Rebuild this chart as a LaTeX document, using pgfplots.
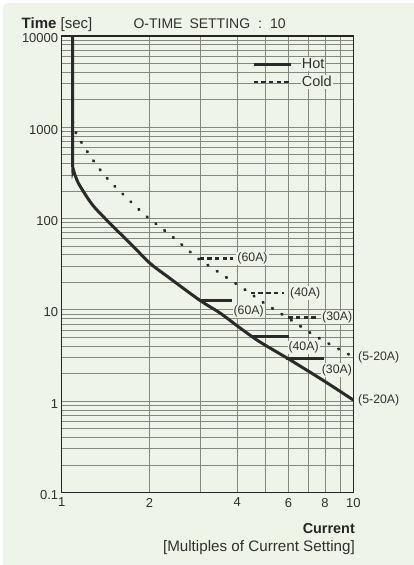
\documentclass[border=0pt]{standalone}
\usepackage{pgfplots}
\pgfplotsset{compat=1.18}
\usepackage{fontspec}
\setmainfont{Liberation Sans}
\definecolor{bg}{RGB}{239,244,232}
\definecolor{txt}{RGB}{48,48,48}
\definecolor{crv}{RGB}{42,42,42}
\definecolor{grd}{RGB}{132,136,128}
\begin{document}
\begin{tikzpicture}[x=1pt,y=1pt]
\useasboundingbox (0,0) rectangle (414,565);
\clip (0,0) rectangle (414,565);
\fill[white] (0,0) rectangle (414,565);
\fill[bg, rounded corners=6pt] (3,-12) rectangle (426,562);
\node[anchor=base west, inner sep=0pt, text=black!85] at (21.5,536.7)
  {\fontsize{15}{18}\selectfont\textbf{Time} \textcolor{txt}{[sec]}};
\node[anchor=base west, inner sep=0pt, text=txt] at (133.3,536.7)
  {\fontsize{14}{17}\selectfont O-TIME\hspace{7pt}SETTING\hspace{8pt}:\hspace{8pt}10};
\node[anchor=base east, inner sep=0pt, text=black!85] at (355,31.7)
  {\fontsize{14.4}{17}\selectfont\textbf{Current}};
\node[anchor=base east, inner sep=0pt, text=txt] at (355,13.3)
  {\fontsize{15.2}{18}\selectfont[Multiples of Current Setting]};
\begin{axis}[
  at={(61.7pt,72.5pt)}, anchor=south west,
  scale only axis, width=291.6pt, height=456.5pt,
  xmode=log, ymode=log,
  xmin=1, xmax=10, ymin=0.1, ymax=10000,
  xtick={1,2,3,4,5,6,7,8,9,10},
  xticklabels={1,2,,4,,6,,8,,10},
  minor xtick={},
  ytick={0.1,1,10,100,1000,10000},
  yticklabels={0.1,1,10,100,1000,10000},
  minor ytick={0.2,0.3,0.4,0.5,0.6,0.7,0.8,0.9,2,3,4,5,6,7,8,9,20,30,40,50,60,70,80,90,200,300,400,500,600,700,800,900,2000,3000,4000,5000,6000,7000,8000,9000},
  grid=both,
  major grid style={draw=grd, line width=0.9pt},
  minor grid style={draw=grd, line width=0.9pt},
  major tick length=0pt, minor tick length=0pt,
  axis line style={line width=1.3pt, draw=black!85},
  tick label style={font=\fontsize{13}{15}\selectfont, text=txt},
  yticklabel style={yshift=-2.5pt},
  xticklabel style={yshift=-2pt},
  axis background/.style={fill=bg},
  clip=false,
  legend style={at={(rel axis cs:0.642,0.958)}, anchor=north west, draw=none, fill=none,
    font=\fontsize{14.5}{16}\selectfont, text=txt, nodes={fill=bg, inner sep=1pt},
    row sep=4pt, column sep=9pt},
  legend cell align=left,
  legend image code/.code={\draw[#1] (0pt,0pt) -- (37pt,0pt);},
]
\addlegendimage{color=crv, line width=2.8pt}
\addlegendentry{Hot}
\addlegendimage{color=crv, line width=2.5pt, dash pattern=on 4.5pt off 3.2pt}
\addlegendentry{Cold}

% Hot curve
\addplot[color=crv, line width=3pt, smooth, tension=0.5, forget plot] coordinates {
(1.091,10000) (1.091,2000) (1.091,400) (1.095,350) (1.12,280) (1.155,228)
(1.283,138) (1.503,81.5) (1.75,50.5) (2.008,32.4) (2.34,22.4) (2.97,12.8)
(3.5,9.2) (4.02,6.6) (4.76,4.5) (6,2.9) (8,1.64) (10,1.03)};
% Cold curve
\addplot[color=crv, line width=2.9pt, line cap=round, dash pattern=on 0.8pt off 10.3pt, smooth, tension=0.5, forget plot] coordinates {
(1.091,1152) (1.108,934) (1.159,713) (1.28,438) (1.42,284) (1.61,189)
(1.835,127) (1.96,105) (2.41,62.4) (2.93,36.7) (3.17,31.0) (3.71,22.2)
(4.27,16.5) (4.96,11.8) (6.12,7.75) (7.16,5.54) (8.39,4.13) (10,3.07)};
% Hot steps
\addplot[color=crv, line width=2.7pt, forget plot] coordinates {(2.97,12.6) (3.84,12.6)};
\addplot[color=crv, line width=2.7pt, forget plot] coordinates {(4.45,5.09) (6.04,5.09)};
\addplot[color=crv, line width=2.7pt, forget plot] coordinates {(5.88,2.94) (7.96,2.94)};
% Cold steps
\addplot[color=crv, line width=2.5pt, dash pattern=on 4.5pt off 3.2pt, forget plot] coordinates {(2.97,36.7) (3.86,36.7)};
\addplot[color=crv, line width=2.5pt, dash pattern=on 4.5pt off 3.2pt, forget plot] coordinates {(4.45,15.3) (5.8,15.3)};
\addplot[color=crv, line width=2.5pt, dash pattern=on 4.5pt off 3.2pt, forget plot] coordinates {(5.98,8.26) (7.55,8.26)};

\begin{scope}[every node/.style={anchor=west, fill=bg, inner sep=1pt, text=txt, font=\fontsize{12.3}{14}\selectfont}]
\node at (axis cs:3.97,36.7) {(60A)};
\node at (axis cs:6.02,15.3) {(40A)};
\node at (axis cs:7.75,8.26) {(30A)};
\node at (axis cs:10.3,3.0) {(5-20A)};
\node at (axis cs:3.85,9.56) {(60A)};
\node at (axis cs:5.94,3.89) {(40A)};
\node at (axis cs:7.73,2.20) {(30A)};
\node at (axis cs:10.3,1.01) {(5-20A)};
\end{scope}
\end{axis}
\end{tikzpicture}
\end{document}
